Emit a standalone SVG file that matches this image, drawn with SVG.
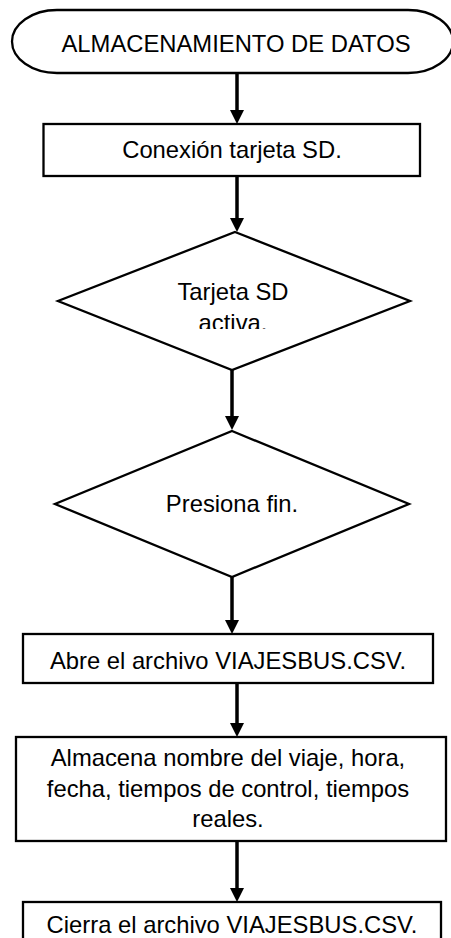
<svg xmlns="http://www.w3.org/2000/svg" width="451" height="938" viewBox="0 0 451 938">
  <style>
    .shape { fill: #ffffff; stroke: #000000; stroke-width: 2.3; }
    .label { font-family: "Liberation Sans", Arial, sans-serif; font-size: 23.8px; fill: #000000; text-anchor: middle; }
    .flow { stroke: #000000; stroke-width: 3.5; fill: none; marker-end: url(#arrow); }
  </style>
  <defs>
    <!-- solid arrowhead; tip sits 8px past the line end -->
    <marker id="arrow" markerUnits="userSpaceOnUse" markerWidth="14" markerHeight="14" refX="6" refY="7" orient="auto">
      <path d="M0,0 L14,7 L0,14 Z" fill="#000000"/>
    </marker>
    <clipPath id="clip-tarjeta">
      <rect x="0" y="270" width="451" height="59"/>
    </clipPath>
  </defs>

  <rect width="451" height="938" fill="#ffffff"/>

  <!-- connectors -->
  <g id="connectors">
    <line class="flow" x1="237" y1="73" x2="237" y2="116"/>
    <line class="flow" x1="237" y1="176" x2="237" y2="224"/>
    <line class="flow" x1="232" y1="370" x2="232" y2="422"/>
    <line class="flow" x1="232" y1="577" x2="232" y2="626"/>
    <line class="flow" x1="237" y1="683" x2="237" y2="729"/>
    <line class="flow" x1="237" y1="841" x2="237" y2="894"/>
  </g>

  <!-- start terminator -->
  <g id="inicio">
    <path class="shape" d="M57,10 H408 A45,31.5 0 0 1 408,73 H57 A45,31.5 0 0 1 57,10 Z"/>
    <text class="label" x="236" y="52">ALMACENAMIENTO DE DATOS</text>
  </g>

  <g id="conexion">
    <rect class="shape" x="43.5" y="124" width="376.5" height="52"/>
    <text class="label" x="232" y="158">Conexión tarjeta SD.</text>
  </g>

  <g id="tarjeta-activa">
    <polygon class="shape" points="235,232 410,301 232,370 58,301"/>
    <g clip-path="url(#clip-tarjeta)">
      <text class="label" x="233" y="300">Tarjeta SD</text>
      <text class="label" x="233" y="331">activa.</text>
    </g>
  </g>

  <g id="presiona-fin">
    <polygon class="shape" points="232,431 409,504 232,577 55,504"/>
    <text class="label" x="232" y="512">Presiona fin.</text>
  </g>

  <g id="abre-archivo">
    <rect class="shape" x="23" y="634" width="410" height="49"/>
    <text class="label" x="228" y="669">Abre el archivo VIAJESBUS.CSV.</text>
  </g>

  <g id="almacena">
    <rect class="shape" x="16" y="737" width="430" height="104"/>
    <text class="label" x="228" y="766">Almacena nombre del viaje, hora,</text>
    <text class="label" x="228" y="797">fecha, tiempos de control, tiempos</text>
    <text class="label" x="228" y="827">reales.</text>
  </g>

  <g id="cierra-archivo">
    <rect class="shape" x="23" y="902" width="418" height="60"/>
    <text class="label" x="232" y="933">Cierra el archivo VIAJESBUS.CSV.</text>
  </g>
</svg>
